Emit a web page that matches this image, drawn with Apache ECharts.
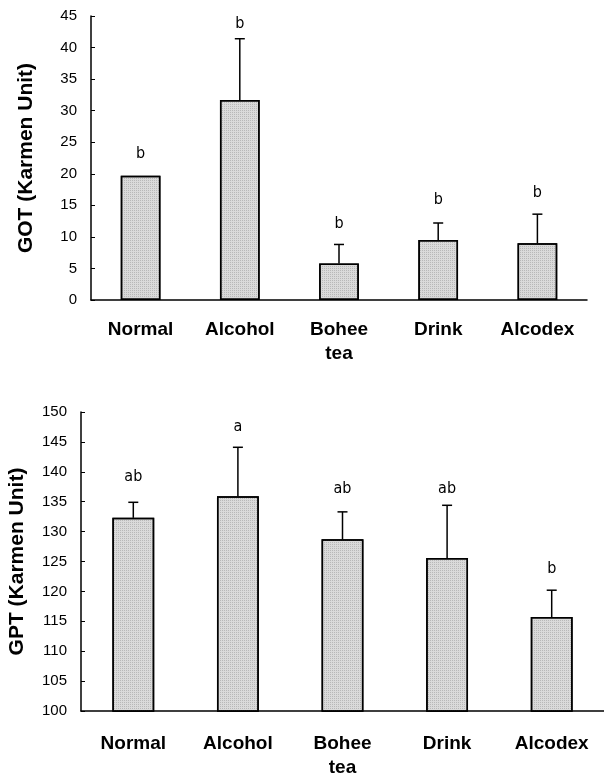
<!DOCTYPE html>
<html><head><meta charset="utf-8">
<script src="https://cdn.jsdelivr.net/npm/echarts@6/dist/echarts.min.js"></script>
<style>html,body{margin:0;padding:0;background:#fff}#c{width:604px;height:776px}</style>
</head><body><div id="c"></div>
<script>
// ---- data ----
const categories = ['Normal', 'Alcohol', 'Bohee\ntea', 'Drink', 'Alcodex'];
const gotMean = [19.7, 31.7, 5.8, 9.5, 9.0];
const gotErrTop = [19.7, 41.4, 8.8, 12.2, 13.6];
const gotLetters = ['b', 'b', 'b', 'b', 'b'];
const gotLetterY = [23.2, 43.8, 12.0, 15.8, 17.0];
const gptMean = [132.3, 135.9, 128.7, 125.6, 115.7];
const gptErrTop = [134.9, 144.1, 133.3, 134.4, 120.2];
const gptLetters = ['ab', 'a', 'ab', 'ab', 'b'];
const gptLetterY = [139.2, 147.5, 137.1, 137.1, 123.8];
const gotAxis = { min: 0, max: 45, interval: 5 };
const gptAxis = { min: 100, max: 150, interval: 5 };

const NARROW = '"Liberation Sans Narrow", "DejaVu Sans Condensed", Arial, sans-serif';
const SANS = '"Liberation Sans", Arial, sans-serif';

function errItem(params, api) {
  const x = api.value(0), lo = api.value(1), hi = api.value(2);
  if (hi <= lo) return null;
  const p0 = api.coord([x, lo]);
  const p1 = api.coord([x, hi]);
  const cap = 5;
  return { type: 'group', children: [
    { type: 'line', shape: { x1: p0[0], y1: p0[1], x2: p1[0], y2: p1[1] }, style: { stroke: '#000', lineWidth: 1.5 } },
    { type: 'line', shape: { x1: p1[0] - cap, y1: p1[1], x2: p1[0] + cap, y2: p1[1] }, style: { stroke: '#000', lineWidth: 1.5 } }
  ]};
}
function makeLetterItem(letters) {
  return function (params, api) {
    const p = api.coord([api.value(0), api.value(1)]);
    return { type: 'text', x: p[0], y: p[1], style: {
      text: letters[params.dataIndex], fill: '#000',
      font: '16px ' + NARROW, align: 'center', verticalAlign: 'middle' } };
  };
}

const xAxisCommon = {
  type: 'category', data: categories,
  axisLine: { lineStyle: { color: '#000', width: 1.5 } },
  axisTick: { inside: true, length: 4, lineStyle: { color: '#000' } },
  axisLabel: { color: '#000', fontFamily: SANS, fontWeight: 'bold', fontSize: 19, lineHeight: 24, interval: 0 }
};
const yAxisCommon = {
  type: 'value', nameLocation: 'middle', nameRotate: 90,
  nameTextStyle: { color: '#000', fontFamily: SANS, fontWeight: 'bold', fontSize: 21 },
  axisLine: { show: true, lineStyle: { color: '#000', width: 1.5 } },
  axisTick: { show: true, inside: true, length: 4, lineStyle: { color: '#000' } },
  axisLabel: { color: '#000', fontFamily: SANS, fontSize: 15, margin: 14 },
  splitLine: { show: false }
};

const barStyle = {
  color: '#dadada', borderColor: '#000', borderWidth: 1.5,
  decal: { symbol: 'rect', symbolSize: 1, dashArrayX: [1, 1], dashArrayY: [1, 1], color: 'rgba(120,120,120,0.35)' }
};

const chart = echarts.init(document.getElementById('c'), null, { renderer: 'canvas' });
chart.setOption({
  animation: false,
  backgroundColor: '#fff',
  grid: [
    { left: 91, top: 16, width: 496, height: 284, containLabel: false, outerBoundsMode: 'none' },
    { left: 81, top: 412, width: 523, height: 299, containLabel: false, outerBoundsMode: 'none' }
  ],
  xAxis: [
    Object.assign({}, xAxisCommon, { gridIndex: 0, axisLabel: Object.assign({}, xAxisCommon.axisLabel, { margin: 18 }) }),
    Object.assign({}, xAxisCommon, { gridIndex: 1, axisLabel: Object.assign({}, xAxisCommon.axisLabel, { margin: 21 }) })
  ],
  yAxis: [
    Object.assign({}, yAxisCommon, gotAxis, { gridIndex: 0, name: 'GOT (Karmen Unit)', nameGap: 54 }),
    Object.assign({}, yAxisCommon, gptAxis, { gridIndex: 1, name: 'GPT (Karmen Unit)', nameGap: 53 })
  ],
  series: [
    { type: 'bar', xAxisIndex: 0, yAxisIndex: 0, data: gotMean, barWidth: '40%', itemStyle: barStyle },
    { type: 'custom', xAxisIndex: 0, yAxisIndex: 0, renderItem: errItem, z: 5,
      data: categories.map((c, i) => [i, gotMean[i], gotErrTop[i]]) },
    { type: 'custom', xAxisIndex: 0, yAxisIndex: 0, z: 6, renderItem: makeLetterItem(gotLetters),
      data: categories.map((c, i) => [i, gotLetterY[i]]) },
    { type: 'bar', xAxisIndex: 1, yAxisIndex: 1, data: gptMean, barWidth: '40%', itemStyle: barStyle },
    { type: 'custom', xAxisIndex: 1, yAxisIndex: 1, renderItem: errItem, z: 5,
      data: categories.map((c, i) => [i, gptMean[i], gptErrTop[i]]) },
    { type: 'custom', xAxisIndex: 1, yAxisIndex: 1, z: 6, renderItem: makeLetterItem(gptLetters),
      data: categories.map((c, i) => [i, gptLetterY[i]]) }
  ]
});
</script></body></html>
